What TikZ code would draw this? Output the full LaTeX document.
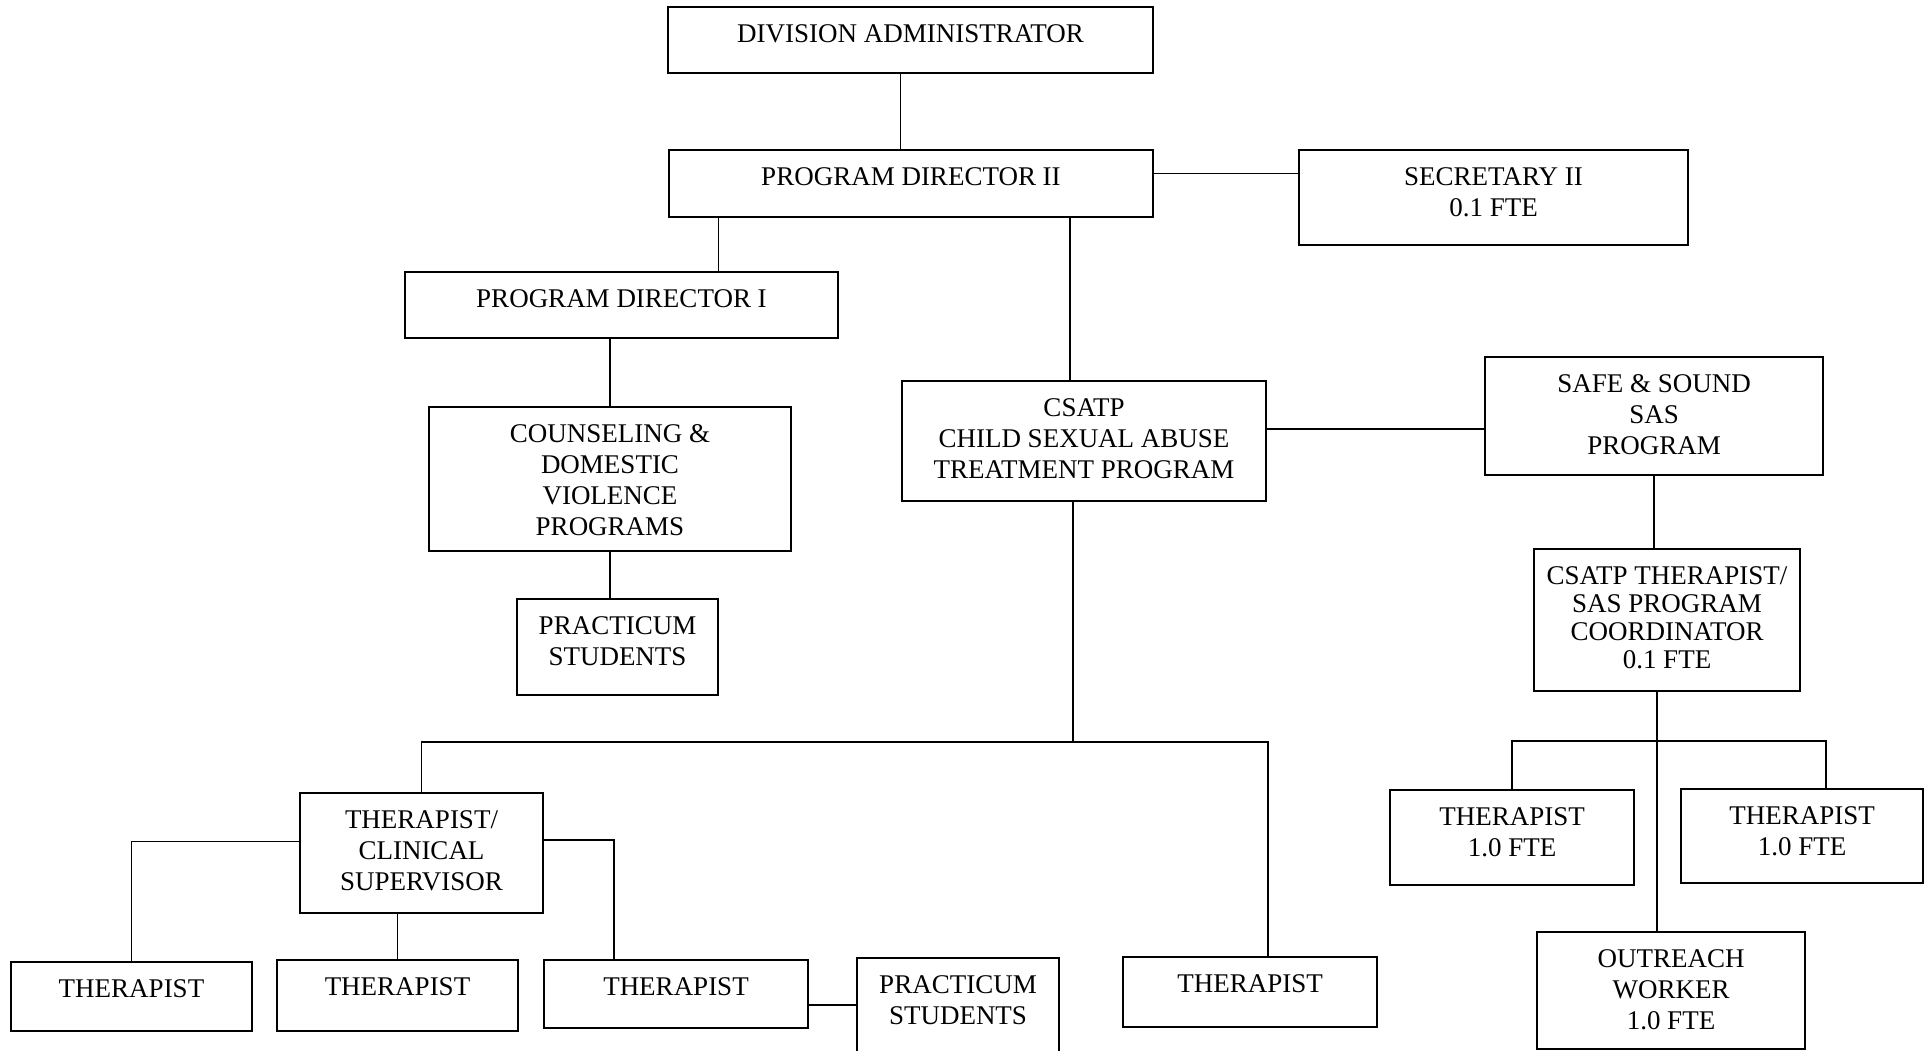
\documentclass[tikz,border=0pt]{standalone}
\usepackage{fontspec}
\setmainfont{Liberation Serif}
\usepackage{tikz}
\usetikzlibrary{positioning}
\newcommand\orgfont{\fontsize{27}{31}\selectfont}
\tikzset{
orgbox/.style n args = {3}{draw, line width=2pt, rectangle, minimum width=#1, minimum height=#2, inner sep=0pt, label={[boxtext]north:#3}},
boxtext/.style = {anchor=north, yshift=-18pt, align=center, inner sep=0pt, font=\orgfont},
link/.style = {line width=1.4pt}
}
\begin{document}
\begin{tikzpicture}[x=1pt, y=-1pt]
    \useasboundingbox (0,0) rectangle (1929,1050);
    \clip (0,0) rectangle (1929,1050);
    \node [orgbox={485pt}{66pt}{DIVISION ADMINISTRATOR}] (divadmin) at (910.5,40) {};
    \node [orgbox={484pt}{67pt}{PROGRAM DIRECTOR II}] (pdii) at (911,183.5) {};
    \node [orgbox={389pt}{95pt}{SECRETARY II\\0.1 FTE}] (sec) at (1493.5,197.5) {};
    \node [orgbox={433pt}{66pt}{PROGRAM DIRECTOR I}] (pdi) at (621.5,305) {};
    \node [orgbox={362pt}{144pt}{COUNSELING \&\\DOMESTIC\\VIOLENCE\\PROGRAMS}] (couns) at (610,479) {};
    \node [orgbox={201pt}{96pt}{PRACTICUM\\STUDENTS}] (prac1) at (617.5,647) {};
    \node [orgbox={364pt}{120pt}{CSATP\\CHILD SEXUAL ABUSE\\TREATMENT PROGRAM}] (csatp) at (1084,441) {};
    \node [orgbox={338pt}{118pt}{SAFE \& SOUND\\SAS\\PROGRAM}] (sas) at (1654,416) {};
    \node [orgbox={266pt}{142pt}{CSATP THERAPIST/\\[-3pt]SAS PROGRAM\\[-3pt]COORDINATOR\\[-3pt]0.1 FTE}] (coord) at (1667,620) {};
    \node [orgbox={243pt}{120pt}{THERAPIST/\\CLINICAL\\SUPERVISOR}] (therclin) at (421.5,853) {};
    \node [orgbox={241pt}{69pt}{THERAPIST}] (thera) at (131.5,996.5) {};
    \node [orgbox={241pt}{71pt}{THERAPIST}] (therb) at (397.5,995.5) {};
    \node [orgbox={264pt}{68pt}{THERAPIST}] (therc) at (676,994) {};
    \node [orgbox={202pt}{120pt}{PRACTICUM\\STUDENTS}] (prac2) at (958,1018) {};
    \node [orgbox={254pt}{70pt}{THERAPIST}] (therd) at (1250,992) {};
    \node [orgbox={244pt}{95pt}{THERAPIST\\1.0 FTE}] (therl) at (1512,837.5) {};
    \node [orgbox={242pt}{94pt}{THERAPIST\\1.0 FTE}] (therr) at (1802,836) {};
    \node [orgbox={268pt}{117pt}{OUTREACH\\WORKER\\1.0 FTE}] (outreach) at (1671,990.5) {};

    \coordinate (da) at ([xshift=-10pt]divadmin.south);
    \draw [link] (da) -- (da |- pdii.north);
    \coordinate (pdr) at ([yshift=10pt]pdii.east);
    \draw [link] (pdr) -- (pdr -| sec.west);
    \coordinate (pdn) at ([xshift=97pt]pdi.north);
    \draw [link] (pdn) -- (pdn |- pdii.south);
    \coordinate (csn) at ([xshift=-14pt]csatp.north);
    \draw [link] (csn) -- (csn |- pdii.south);
    \draw [link] (couns.north) -- (couns.north |- pdi.south);
    \draw [link] (couns.south) -- (couns.south |- prac1.north);
    \coordinate (csr) at ([yshift=12pt]csatp.east);
    \draw [link] (csr) -- (csr -| sas.west);
    \draw [link] (sas.south) -- (sas.south |- coord.north);

    \coordinate (css) at ([xshift=-11pt]csatp.south);
    \coordinate (bus1) at (1073,742);
    \coordinate (tdn) at ([xshift=18pt]therd.north);
    \draw [link] (css) -- (bus1);
    \draw [link] (therclin.north) |- (bus1) -| (tdn);
    \coordinate (tcl) at ([yshift=11.5pt]therclin.west);
    \draw [link] (tcl) -| (thera.north);
    \draw [link] (therb.north) -- (therb.north |- therclin.south);
    \coordinate (tcr) at ([yshift=13pt]therclin.east);
    \coordinate (tcn) at ([xshift=-62pt]therc.north);
    \draw [link] (tcr) -| (tcn);
    \coordinate (tce) at ([yshift=-11pt]therc.east);
    \draw [link] (tce) -- (tce -| prac2.west);

    \coordinate (own) at ([xshift=-14pt]outreach.north);
    \draw [link] (own) -- (own |- coord.south);
    \coordinate (bus2) at (1657,741);
    \coordinate (trn) at ([xshift=24pt]therr.north);
    \draw [link] (therl.north) |- (bus2) -| (trn);
\end{tikzpicture}
\end{document}
